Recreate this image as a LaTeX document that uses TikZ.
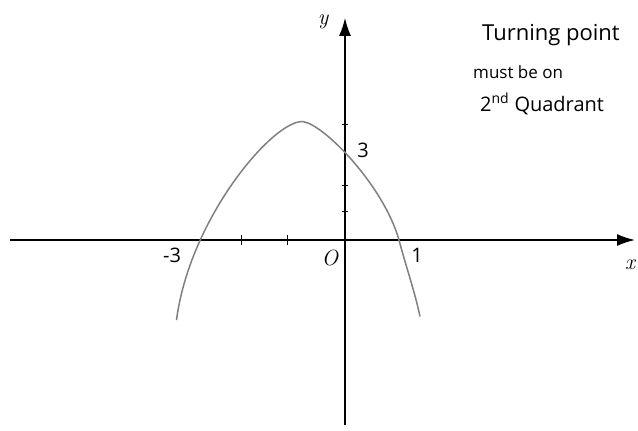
\documentclass[tikz,border=0pt]{standalone}
\usepackage{fontspec}
\newfontfamily\handfont{Open Sans}
\usetikzlibrary{arrows.meta, positioning}

\begin{document}
\begin{tikzpicture}[x=50pt, y=29pt]
        \useasboundingbox (-6.9,-6.586) rectangle (5.86,8.276);
        \tikzset{axis/.style={line width=1.6pt, -{Latex[length=18pt,width=12pt]}},
          curve/.style={gray, line width=1.5pt},
          lab/.style={font=\fontsize{22}{24}\selectfont\itshape},
          num/.style={font=\handfont\fontsize{20}{22}\selectfont},
          hand/.style={font=\handfont, anchor=west, inner sep=0pt}}
        % axes
        \coordinate (xl) at (-6.7,0);
        \coordinate (xr) at (5.8,0);
        \coordinate (yb) at (0,-6.38);
        \coordinate (yt) at (0,7.66);
        \draw[axis] (xl) -- (xr);
        \draw[axis] (yb) -- (yt);
        \def\xticks{-2.06, -1.14}
        \def\yticks{0.97, 1.9, 3.97}
        \foreach \t [count = \i] in \xticks{
          \coordinate (X\i) at (\t,0);
          \draw[line width=1pt] ([yshift=-5pt]X\i) -- ([yshift=5pt]X\i);
        }
        \foreach \t [count = \i] in \yticks{
          \coordinate (Y\i) at (0,\t);
          \draw[line width=.8pt] ([xshift=-3pt]Y\i) -- ([xshift=3pt]Y\i);
        }
        % the parabola
        \coordinate (left) at (-3.37,-2.76);
        \coordinate (top) at (-0.83,4.08);
        \coordinate (cut) at (1.07,0.06);
        \coordinate (right) at (1.5,-2.64);
        \draw[curve] (left) .. controls (-3.1,0.8) and (-1.4,4.2) .. (top)
          .. controls (-0.4,3.95) and (0.75,1.9) .. (cut)
          .. controls (1.2,-0.8) and (1.4,-1.8) .. (right);
        \node[lab] (ylab) at (-0.44,7.52) {y};
        \node[lab] (xlab) at (5.7,-0.86) {x};
        \node[lab] (orig) at (-0.3,-0.62) {O};
        \node[num] (mthree) at (-3.46,-0.52) {-3};
        \node[num] (one) at (1.44,-0.52) {1};
        \node[num] (three) at (0.36,3.1) {3};
        % note
        \node[hand] (n1) at (2.74,7.07) {\fontsize{22}{24}\selectfont Turning point};
        \node[hand] (n2) at (2.56,5.79) {\fontsize{17}{20}\selectfont must be on};
        \node[hand] (n3) at (2.7,4.69) {\fontsize{20}{22}\selectfont 2\textsuperscript{nd} Quadrant};
      \end{tikzpicture}
\end{document}
